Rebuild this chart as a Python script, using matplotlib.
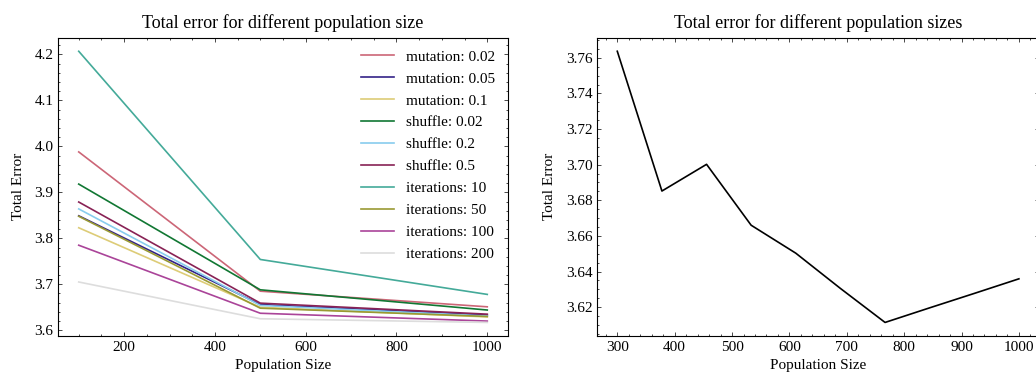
import numpy as np
import matplotlib
matplotlib.use('Agg')
import matplotlib.pyplot as plt
from matplotlib.ticker import AutoMinorLocator

# left panel: total error per population size for each setting
pop_sizes = [100, 500, 1000]
labels = ['mutation: 0.02', 'mutation: 0.05', 'mutation: 0.1',
          'shuffle: 0.02', 'shuffle: 0.2', 'shuffle: 0.5',
          'iterations: 10', 'iterations: 50', 'iterations: 100', 'iterations: 200']
mutation_002 = [3.988, 3.685, 3.651]
mutation_005 = [3.849, 3.656, 3.633]
mutation_01 = [3.823, 3.650, 3.629]
shuffle_002 = [3.918, 3.688, 3.644]
shuffle_02 = [3.864, 3.654, 3.631]
shuffle_05 = [3.879, 3.659, 3.635]
iterations_10 = [4.207, 3.754, 3.678]
iterations_50 = [3.848, 3.648, 3.630]
iterations_100 = [3.785, 3.637, 3.620]
iterations_200 = [3.705, 3.625, 3.617]
series = [mutation_002, mutation_005, mutation_01, shuffle_002, shuffle_02,
          shuffle_05, iterations_10, iterations_50, iterations_100, iterations_200]

# right panel
pop_sizes2 = [300, 377.8, 455.6, 533.3, 611.1, 688.9, 766.7, 844.4, 922.2, 1000]
total_error2 = [3.7637, 3.6852, 3.7002, 3.6660, 3.6503, 3.6305, 3.6114, 3.6196, 3.6277, 3.6359]

colors = ['#CC6677', '#332288', '#DDCC77', '#117733', '#88CCEE',
          '#882255', '#44AA99', '#999933', '#AA4499', '#DDDDDD']

plt.rcParams['font.family'] = ['Liberation Serif', 'DejaVu Serif']
plt.rcParams['font.size'] = 11

fig = plt.figure(figsize=(10.36, 3.78), dpi=100)
W, H = 1036.0, 378.0
ax1 = fig.add_axes([58.3/W, 1-336/H, (507.7-58.3)/W, (336-37.7)/H])
ax2 = fig.add_axes([597.2/W, 1-336/H, (1039-597.2)/W, (336-37.7)/H])

for s, lab, c in zip(series, labels, colors):
    ax1.plot(pop_sizes, s, color=c, label=lab, lw=1.2)
ax1.set_title('Total error for different population size', fontsize=13, pad=7)
ax1.set_xlabel('Population Size')
ax1.set_ylabel('Total Error', labelpad=7)
ax1.legend(loc='upper right', frameon=False, fontsize=11, handlelength=2.2,
           labelspacing=0.54, borderaxespad=0.4)

ax2.plot(pop_sizes2, total_error2, color='black', lw=1.2)
ax2.set_title('Total error for different population sizes', fontsize=13, pad=7)
ax2.set_xlabel('Population Size')
ax2.set_ylabel('Total Error', labelpad=7)
ax2.set_yticks([3.62, 3.64, 3.66, 3.68, 3.70, 3.72, 3.74, 3.76])

for ax in (ax1, ax2):
    ax.xaxis.set_minor_locator(AutoMinorLocator())
    ax.yaxis.set_minor_locator(AutoMinorLocator())
    ax.tick_params(which='both', direction='in', top=True, right=True)
    ax.tick_params(which='major', length=3, width=0.5)
    ax.tick_params(which='minor', length=1.5, width=0.5)
    for sp in ax.spines.values():
        sp.set_linewidth(0.8)

fig.savefig('out.png', dpi=100)
